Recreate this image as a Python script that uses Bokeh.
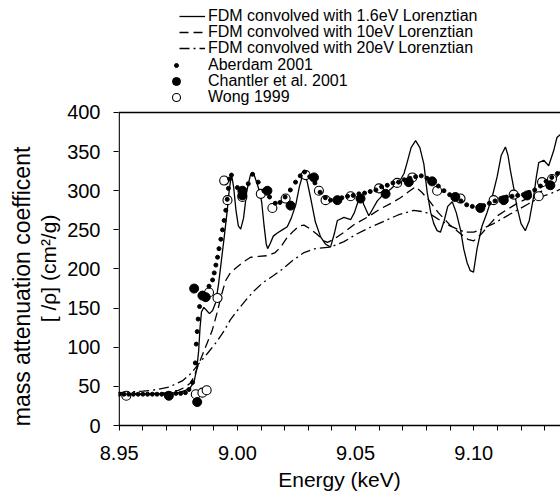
from bokeh.plotting import figure
from bokeh.models import Range1d, FixedTicker, NumeralTickFormatter, LinearAxis, Legend, LegendItem, Span
from bokeh.embed import file_html
from bokeh.resources import INLINE

# ---------------- data ----------------
fdm16_x = [8.950, 8.960, 8.970, 8.975, 8.978, 8.980, 8.9816, 8.9828, 8.9836, 8.9842, 8.9848, 8.9858,
           8.9870, 8.9882, 8.9895, 8.9908, 8.9920, 8.9932, 8.9944, 8.9956, 8.9966, 8.9975, 8.9984,
           8.9994, 9.0004, 9.0014, 9.0026, 9.0040, 9.0055, 9.0068, 9.0080, 9.0093, 9.0103, 9.0113,
           9.0122, 9.0128, 9.0138, 9.0152, 9.0169, 9.0190, 9.0211, 9.0228, 9.0247, 9.0262, 9.0279,
           9.0295, 9.0309, 9.0330, 9.0352, 9.0372, 9.0394, 9.0410, 9.0423, 9.0451, 9.0479, 9.0495,
           9.0507, 9.0521, 9.0535, 9.0556, 9.0575, 9.0592, 9.0620, 9.0648, 9.0670, 9.0690, 9.0705,
           9.0718, 9.0735, 9.0754, 9.0772, 9.0789, 9.0803, 9.0818, 9.0831, 9.0845, 9.0859, 9.0875,
           9.0890, 9.0909, 9.0926, 9.0944, 9.0958, 9.0972, 9.0985, 9.0999, 9.1014, 9.1035, 9.1056,
           9.1078, 9.1099, 9.1116, 9.1134, 9.1145, 9.1155, 9.1170, 9.1183, 9.1200, 9.1218, 9.1235,
           9.1253, 9.1265, 9.1275, 9.1296, 9.1317, 9.1338, 9.1352, 9.1367]
fdm16_y = [40, 40, 41, 42, 45, 48, 55, 72, 95, 125, 145, 151,
           147, 143, 147, 157, 180, 210, 240, 272, 302, 321, 305,
           275, 255, 251, 265, 300, 320, 323, 312, 300, 285, 255,
           232, 226, 232, 242, 246, 250, 254, 265, 282, 305, 323,
           312, 292, 260, 241, 232, 228, 245, 262, 266, 263, 272,
           283, 295, 282, 268, 278, 287, 296, 302, 308, 314, 322,
           336, 355, 364, 355, 334, 298, 272, 258, 249, 247, 262,
           280, 286, 272, 250, 225, 208, 198, 196, 226, 255, 272,
           292, 318, 345, 356, 345, 326, 302, 279, 258, 249, 262,
           292, 318, 336, 339, 332, 351, 368, 372]

fdm10_x = [8.950, 8.960, 8.970, 8.975, 8.978, 8.980, 8.9816, 8.9837, 8.9865, 8.9893, 8.9915, 8.9930,
           8.9950, 8.9970, 9.0000, 9.0030, 9.0056, 9.0090, 9.0127, 9.0160, 9.0183, 9.0210, 9.0239,
           9.0262, 9.0282, 9.0310, 9.0338, 9.0366, 9.0381, 9.0408, 9.0451, 9.0500, 9.0549, 9.0600,
           9.0650, 9.0690, 9.0730, 9.0754, 9.0780, 9.0810, 9.0850, 9.0900, 9.0944, 9.0975, 9.1000,
           9.1030, 9.1070, 9.1100, 9.1141, 9.1190, 9.1240, 9.1290, 9.1324, 9.1352, 9.1367]
fdm10_y = [40, 40, 42, 45, 49, 54, 62, 79, 100, 121, 145, 164,
           185, 195, 203, 210, 215, 216, 217, 221, 228, 240, 249,
           255, 256, 251, 244, 236, 234, 238, 247, 258, 266, 276,
           284, 291, 300, 305, 298, 288, 272, 256, 245, 238, 236,
           244, 258, 268, 276, 285, 292, 300, 306, 318, 325]

fdm20_x = [8.950, 8.960, 8.964, 8.971, 8.9767, 8.9802, 8.9837, 8.9873, 8.9910, 8.9944, 8.9970, 9.0000,
           9.0035, 9.0070, 9.0110, 9.0150, 9.0183, 9.0230, 9.0282, 9.0330, 9.0394, 9.0451, 9.0507,
           9.0560, 9.0620, 9.0680, 9.0746, 9.0790, 9.0817, 9.0859, 9.0900, 9.0944, 9.0975, 9.1000,
           9.1040, 9.1084, 9.1130, 9.1183, 9.1230, 9.1282, 9.1330, 9.1367]
fdm20_y = [42, 44, 45, 49, 57, 66, 79, 92, 106, 121, 135, 147,
           160, 172, 183, 191, 198, 210, 221, 226, 228, 235, 245,
           253, 261, 269, 275, 273, 270, 262, 255, 249, 247, 247,
           252, 258, 266, 275, 283, 292, 297, 302]

aberdam_x = [8.950, 8.952, 8.954, 8.956, 8.958, 8.960, 8.962, 8.964, 8.966, 8.968, 8.970, 8.972,
             8.974, 8.976, 8.978, 8.9795, 8.981, 8.9822, 8.9826, 8.9830, 8.9834, 8.9840, 8.9880,
             8.9895, 8.9902, 8.9909, 8.9916, 8.9922, 8.9930, 8.9937, 8.9944, 8.9951, 8.9957, 8.9962,
             8.9967, 8.9975, 9.0000, 9.0024, 9.0046, 9.0064, 9.0088, 9.0112, 9.0136, 9.0160, 9.0180,
             9.0202, 9.0224, 9.0246, 9.0266, 9.0284, 9.0306, 9.0328, 9.0350, 9.0372, 9.0394, 9.0418,
             9.0442, 9.0466, 9.0490, 9.0514, 9.0538, 9.0562, 9.0586, 9.0610, 9.0634, 9.0658, 9.0682,
             9.0706, 9.0730, 9.0754, 9.0778, 9.0802, 9.0826, 9.0850, 9.0874, 9.0898, 9.0922, 9.0946,
             9.0970, 9.0994, 9.1018, 9.1042, 9.1066, 9.1090, 9.1114, 9.1138, 9.1162, 9.1186, 9.1210,
             9.1234, 9.1258, 9.1282, 9.1306, 9.1330, 9.1354]
aberdam_y = [40, 40, 40, 40, 40, 40, 40, 40, 40, 40, 40, 40,
             41, 41, 42, 46, 55, 80, 104, 120, 136, 152, 178,
             186, 195, 205, 215, 226, 238, 250, 262, 275, 289, 303,
             315, 320, 304, 300, 309, 321, 311, 300, 292, 284, 285,
             292, 301, 311, 319, 324, 318, 310, 298, 291, 288, 288,
             291, 293, 294, 296, 297, 299, 301, 305, 307, 310, 311,
             314, 316, 318, 319, 316, 311, 306, 300, 295, 291, 287,
             282, 280, 279, 281, 284, 287, 290, 292, 293, 294, 295,
             298, 301, 306, 312, 317, 322]

chantler_x = [8.9710, 8.9817, 8.9830, 8.9852, 8.9866, 9.0021, 9.0021, 9.0127, 9.0225, 9.0324, 9.0423,
              9.0521, 9.0627, 9.0725, 9.0824, 9.0922, 9.1028, 9.1127, 9.1226, 9.1324]
chantler_y = [38, 175, 30, 166, 164, 300, 294, 300, 281, 317, 288,
              290, 296, 311, 312, 292, 278, 288, 294, 307]

wong_x = [8.9530, 8.9824, 8.9852, 8.9870, 8.9880, 8.9916, 8.9944, 8.9958, 9.0021, 9.0099, 9.0148,
          9.0204, 9.0289, 9.0345, 9.0373, 9.0479, 9.0599, 9.0676, 9.0740, 9.0845, 9.0944, 9.1084,
          9.1169, 9.1275, 9.1289, 9.1331]
wong_y = [38, 40, 42, 45, 170, 163, 313, 288, 292, 296, 278,
          290, 320, 300, 288, 293, 303, 310, 317, 300, 290, 288,
          295, 293, 311, 315]

x_major = [8.95, 9.00, 9.05, 9.10]
x_minor = [8.96, 8.97, 8.98, 8.99, 9.01, 9.02, 9.03, 9.04, 9.06, 9.07, 9.08, 9.09, 9.11, 9.12, 9.13]
y_major = [0, 50, 100, 150, 200, 250, 300, 350, 400]

legend_lines = ["FDM convolved with 1.6eV Lorenztian",
                "FDM convolved with 10eV Lorenztian",
                "FDM convolved with 20eV Lorenztian"]
legend_marks = ["Aberdam 2001", "Chantler et al. 2001", "Wong 1999"]

FONT = "Liberation Sans"
NBSP = "\u00a0"

# ---------------- figure ----------------
# the frame runs from the canvas top down to the x axis; the legend sits in its upper part
p = figure(width=560, height=494, output_backend="svg", toolbar_location=None,
           x_range=Range1d(8.9497, 9.1367), y_range=Range1d(0, 543.1),
           min_border_left=118, min_border_right=0, min_border_top=0, min_border_bottom=69)
p.xgrid.grid_line_color = None
p.ygrid.grid_line_color = None
p.outline_line_color = None

r1 = p.line(fdm16_x, fdm16_y, line_color="black", line_width=1.3)
r2 = p.line(fdm10_x, fdm10_y, line_color="black", line_width=1.3, line_dash="9 5")
r3 = p.line(fdm20_x, fdm20_y, line_color="black", line_width=1.3, line_dash="10 4 2 4")
r6 = p.scatter(wong_x, wong_y, marker="circle", size=9, fill_color="white",
               line_color="black", line_width=1.1)
r5 = p.scatter(chantler_x, chantler_y, marker="circle", size=9, fill_color="black", line_color="black")
r4 = p.scatter(aberdam_x, aberdam_y, marker="circle", size=4, fill_color="black", line_color="black")

# box lines: left axis line from 0 to 400 and top line at 400
p.segment(x0=[x_major[0]], y0=[y_major[0]], x1=[x_major[0]], y1=[y_major[-1]],
          line_color="black", line_width=1.3)
p.add_layout(Span(location=y_major[-1], dimension="width", line_color="black", line_width=1.3))

xa = p.xaxis[0]
xa.ticker = FixedTicker(ticks=x_major, minor_ticks=x_minor)
xa.formatter = NumeralTickFormatter(format="0.00")
xa.axis_label = "Energy (keV)"
ya = p.yaxis[0]
ya.ticker = FixedTicker(ticks=y_major)
ya.axis_label = "[ /ρ] (cm²/g)" + NBSP * 19

for ax in (xa, ya):
    ax.axis_line_color = "black"
    ax.axis_line_width = 1.3
    ax.major_tick_line_color = "black"
    ax.minor_tick_line_color = "black"
    ax.major_tick_in = 0
    ax.major_tick_out = 5
    ax.minor_tick_in = 0
    ax.major_label_text_font = FONT
    ax.major_label_text_font_size = "20px"
    ax.major_label_text_color = "black"
    ax.axis_label_text_font = FONT
    ax.axis_label_text_font_size = "21px"
    ax.axis_label_text_font_style = "normal"
    ax.axis_label_text_color = "black"
ya.axis_line_color = None
xa.minor_tick_out = 5
ya.minor_tick_out = 0
xa.major_label_standoff = 15
xa.axis_label_standoff = 5
ya.major_label_standoff = 13
ya.axis_label_standoff = 4

ya2 = LinearAxis(ticker=FixedTicker(ticks=[]), axis_line_color=None,
                 major_tick_out=0, major_tick_in=0, minor_tick_out=0, minor_tick_in=0,
                 axis_label="mass attenuation coefficent" + NBSP * 23, axis_label_standoff=0,
                 axis_label_text_font=FONT, axis_label_text_font_size="23px",
                 axis_label_text_font_style="normal", axis_label_text_color="black")
p.add_layout(ya2, "left")


def one_legend(label, rend, vx, vy, gw, gh, standoff):
    lg = Legend(items=[LegendItem(label=label, renderers=[rend])], location=(vx, vy),
                glyph_width=gw, glyph_height=gh, label_height=gh, label_standoff=standoff,
                label_text_font=FONT, label_text_font_size="16px", label_text_color="black",
                spacing=0, padding=0, margin=0, border_line_color=None, background_fill_alpha=0)
    p.add_layout(lg)


one_legend(legend_lines[0], r1, 61, 400, 26, 18, 3)
one_legend(legend_lines[1], r2, 61, 384, 26, 18, 3)
one_legend(legend_lines[2], r3, 61, 368, 26, 18, 3)
one_legend(legend_marks[0], r4, 53, 351, 10, 18, 27)
one_legend(legend_marks[1], r5, 48, 334, 20, 20, 22)
one_legend(legend_marks[2], r6, 48, 318, 20, 20, 22)

open("out.html", "w").write(file_html(p, INLINE))
